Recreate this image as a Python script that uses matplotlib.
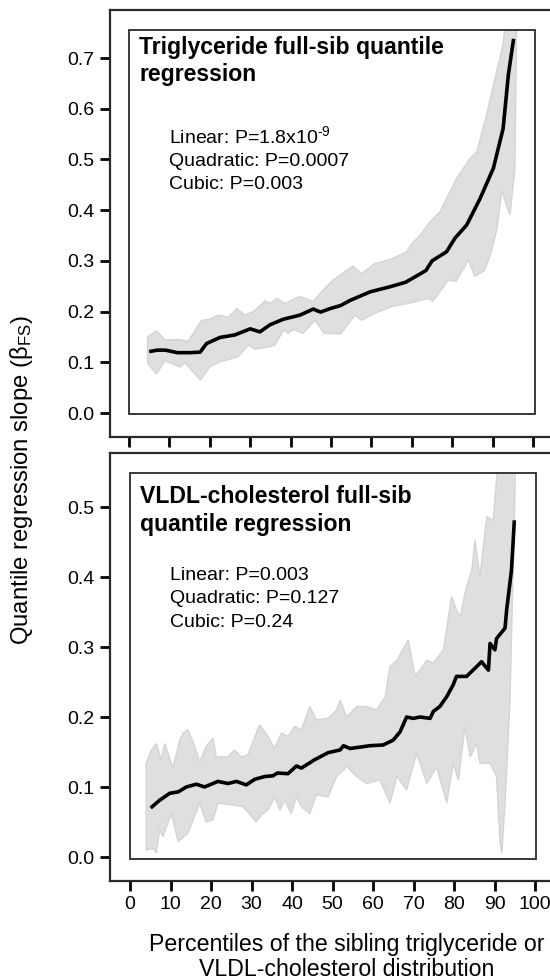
import matplotlib
matplotlib.use("Agg")
import matplotlib.pyplot as plt
from matplotlib.patches import Rectangle
import numpy as np

plt.rcParams['font.family'] = ['Liberation Sans', 'DejaVu Sans']
plt.rcParams['mathtext.fontset'] = 'custom'
plt.rcParams['mathtext.rm'] = 'Liberation Sans'
plt.rcParams['mathtext.it'] = 'Liberation Sans:italic'
plt.rcParams['mathtext.bf'] = 'Liberation Sans:bold'

# ---------------- data: triglyceride panel ----------------
tg_line_x = [5, 7, 9, 12, 15, 17.6, 19.2, 22.5, 26.2, 30, 32.4, 34.9, 38.2, 42.3, 45.6,
             47.4, 49.8, 52.4, 54.7, 59.7, 64.6, 68.5, 73.5, 75, 78.6, 80.7, 83.6, 86.9,
             90.2, 92.6, 93.9, 95.2]
tg_line_y = [0.121, 0.124, 0.124, 0.119, 0.119, 0.120, 0.137, 0.149, 0.154, 0.166, 0.160,
             0.174, 0.185, 0.193, 0.205, 0.199, 0.206, 0.212, 0.222, 0.239, 0.249, 0.258,
             0.281, 0.300, 0.318, 0.345, 0.371, 0.423, 0.483, 0.561, 0.667, 0.738]

tg_up_x = [4.6, 6.8, 8.9, 12.6, 14.6, 18, 20, 22.1, 24.6, 26.7, 28.7, 30.8, 33.7, 34.9,
           36.6, 38.6, 42.3, 45.6, 48.1, 50.5, 53.5, 55.4, 57.6, 60.9, 62.5, 65.3, 68.7,
           70, 72.4, 74.5, 77, 81.1, 84.4, 86.1, 88.5, 90.2, 92.6, 93.5, 96]
tg_up_y = [0.150, 0.162, 0.144, 0.145, 0.141, 0.183, 0.185, 0.193, 0.189, 0.206, 0.193,
           0.200, 0.221, 0.216, 0.226, 0.216, 0.230, 0.220, 0.243, 0.262, 0.279, 0.290,
           0.275, 0.295, 0.298, 0.305, 0.318, 0.334, 0.354, 0.377, 0.397, 0.463, 0.502,
           0.515, 0.588, 0.647, 0.726, 0.80, 0.80]

tg_lo_x = [4.6, 6.8, 8.9, 12.6, 13.9, 17.7, 20, 22.5, 27, 29.5, 31.2, 34.9, 36.1, 38.4,
           39.4, 40.7, 43.1, 46, 48.3, 52.4, 55.9, 57.6, 60.9, 65, 69.1, 74.1, 75.2, 79,
           81, 84, 85.6, 88.1, 89.8, 91, 92.3, 93, 94.3, 95.5, 96]
tg_lo_y = [0.098, 0.077, 0.103, 0.091, 0.099, 0.065, 0.091, 0.101, 0.111, 0.134, 0.126,
           0.131, 0.134, 0.165, 0.157, 0.165, 0.157, 0.183, 0.157, 0.156, 0.193, 0.183,
           0.197, 0.210, 0.216, 0.226, 0.220, 0.262, 0.260, 0.302, 0.269, 0.282, 0.321,
           0.360, 0.440, 0.420, 0.391, 0.480, 0.80]

# ---------------- data: VLDL-cholesterol panel ----------------
vl_line_x = [5.1, 7.3, 9.8, 11.9, 13.9, 16.4, 18.4, 21.7, 24.2, 26.3, 28.7, 30.8, 33.3,
             35.3, 36.4, 39, 41.1, 42.3, 45.6, 48.9, 51.9, 52.7, 54.3, 59.3, 62.5, 65,
             66.7, 68.3, 69.9, 71.6, 74.1, 74.9, 76.5, 78.2, 79.8, 80.6, 83.1, 85.6, 86.8,
             88.5, 88.9, 90.1, 90.5, 92.6, 93.0, 94.2, 94.9]
vl_line_y = [0.070, 0.081, 0.091, 0.093, 0.100, 0.104, 0.100, 0.108, 0.105, 0.108, 0.103,
             0.111, 0.115, 0.116, 0.120, 0.119, 0.130, 0.127, 0.139, 0.149, 0.153, 0.159,
             0.155, 0.159, 0.160, 0.167, 0.179, 0.200, 0.198, 0.200, 0.198, 0.208, 0.215,
             0.229, 0.246, 0.258, 0.258, 0.272, 0.279, 0.267, 0.305, 0.296, 0.312, 0.327,
             0.353, 0.410, 0.481]

vl_up_x = [4.0, 5.3, 6.5, 7.7, 8.6, 10.6, 12.3, 13.1, 14.3, 16, 17.2, 18.8, 20.5, 21.3,
           24.2, 25.8, 27.5, 29.1, 32, 34.1, 35.7, 37.4, 39, 40.7, 42.3, 44.4, 46, 48.9,
           51.0, 51.9, 53.5, 56, 58.4, 60.9, 63, 64.2, 65.9, 68.7, 70.4, 71.6, 73.3, 74.9,
           77.4, 79.4, 80.6, 81.5, 83.1, 84.4, 85.2, 86.4, 88.1, 89.7, 90.5, 91, 95.2]
vl_up_y = [0.134, 0.153, 0.162, 0.139, 0.162, 0.127, 0.167, 0.177, 0.182, 0.158, 0.136,
           0.158, 0.170, 0.143, 0.143, 0.153, 0.143, 0.146, 0.189, 0.172, 0.155, 0.177,
           0.172, 0.187, 0.181, 0.215, 0.196, 0.198, 0.210, 0.224, 0.200, 0.215, 0.215,
           0.210, 0.229, 0.272, 0.281, 0.310, 0.258, 0.267, 0.281, 0.277, 0.296, 0.372,
           0.353, 0.343, 0.386, 0.410, 0.453, 0.400, 0.486, 0.481, 0.539, 0.60, 0.60]

vl_lo_x = [4.0, 5.7, 6.5, 7.3, 8.1, 10.2, 11.9, 14.3, 17.2, 18.8, 20.5, 21.7, 24.5, 27.9,
           31.2, 32.4, 34.1, 35.7, 37, 38.2, 39.8, 41.1, 42.3, 44.4, 46, 48.9, 51.0, 53.5,
           56, 58.4, 61.7, 64.2, 65.9, 68.3, 70.8, 73.3, 75.7, 78.2, 79.8, 81.1, 82.7, 84,
           85.6, 86.4, 88.9, 90.5, 91.4, 91.8, 92.6, 93.8, 95.0, 95.2]
vl_lo_y = [0.010, 0.012, 0.006, 0.039, 0.029, 0.062, 0.022, 0.034, 0.077, 0.050, 0.053,
           0.077, 0.075, 0.072, 0.050, 0.060, 0.067, 0.086, 0.067, 0.081, 0.062, 0.086,
           0.072, 0.062, 0.089, 0.086, 0.115, 0.129, 0.115, 0.105, 0.110, 0.077, 0.115,
           0.096, 0.148, 0.105, 0.129, 0.077, 0.134, 0.110, 0.186, 0.143, 0.162, 0.134,
           0.134, 0.115, 0.020, 0.005, 0.077, 0.220, 0.505, 0.60]

y_ticks_tg = [0.0, 0.1, 0.2, 0.3, 0.4, 0.5, 0.6, 0.7]
y_ticks_vl = [0.0, 0.1, 0.2, 0.3, 0.4, 0.5]
x_ticks = [0, 10, 20, 30, 40, 50, 60, 70, 80, 90, 100]

title_tg = "Triglyceride full-sib quantile\nregression"
title_vl = "VLDL-cholesterol full-sib\nquantile regression"
ann_tg = ["Linear: P=1.8x10$^{\\mathrm{‐9}}$", "Quadratic: P=0.0007", "Cubic: P=0.003"]
ann_vl = ["Linear: P=0.003", "Quadratic: P=0.127", "Cubic: P=0.24"]

W, H = 550, 980
fig = plt.figure(figsize=(W / 100, H / 100), dpi=100)

band_color = '#DFDFDF'
edge = '#2A2A2A'


def panel(rect, xlim, ylim, inner, line_x, line_y, up_x, up_y, lo_x, lo_y,
          yticks, show_xlabels, title, title_y, ann, ann_ys):
    ax = fig.add_axes(rect)
    ax.set_xlim(*xlim)
    ax.set_ylim(*ylim)
    for s in ax.spines.values():
        s.set_linewidth(1.6)
        s.set_color(edge)
    box = Rectangle((inner[0], inner[1]), inner[2], inner[3], fill=False,
                    lw=1.3, edgecolor=edge, zorder=5)
    ax.add_patch(box)
    px = list(up_x) + list(lo_x)[::-1]
    py = list(up_y) + list(lo_y)[::-1]
    poly = ax.fill(px, py, facecolor=band_color, edgecolor='#D4D4D4', lw=1.0, zorder=2)[0]
    poly.set_clip_path(box)
    ax.plot(line_x, line_y, color='black', lw=2.6, zorder=4,
            solid_joinstyle='round', solid_capstyle='butt')
    ax.set_yticks(yticks)
    ax.set_yticklabels([f"{v:.1f}" for v in yticks])
    ax.set_xticks(x_ticks)
    if show_xlabels:
        ax.set_xticklabels([str(v) for v in x_ticks])
    else:
        ax.set_xticklabels([])
    ax.tick_params(direction='out', length=7, width=2.0, labelsize=14, pad=4,
                   color='black', top=False, right=False)
    ax.text(2.5, title_y, title, fontsize=16.6, fontweight='bold', ha='left', va='top',
            zorder=6, linespacing=1.25)
    for t, yy in zip(ann, ann_ys):
        ax.text(9.8, yy, t, fontsize=14, ha='left', va='baseline', zorder=6)
    return ax


# top panel (triglyceride)
panel([110 / W, 1 - 437 / H, 450 / W, 427 / H],
      ((110 - 129) / 4.04, (560 - 129) / 4.04),
      ((413 - 437) / 507, (413 - 10) / 507),
      (0, -0.002, 100.5, 0.757),
      tg_line_x, tg_line_y, tg_up_x, tg_up_y, tg_lo_x, tg_lo_y,
      y_ticks_tg, False, title_tg, (413 - 36) / 507, ann_tg,
      [(413 - 142.7) / 507, (413 - 166) / 507, (413 - 189.3) / 507])

# bottom panel (VLDL-cholesterol)
panel([110 / W, 1 - 881 / H, 450 / W, 428 / H],
      ((110 - 130) / 4.05, (560 - 130) / 4.05),
      ((857 - 881) / 700, (857 - 453) / 700),
      (0, -0.003, 100.2, 0.552),
      vl_line_x, vl_line_y, vl_up_x, vl_up_y, vl_lo_x, vl_lo_y,
      y_ticks_vl, True, title_vl, (857 - 485) / 700, ann_vl,
      [(857 - 580) / 700, (857 - 603) / 700, (857 - 627) / 700])

fig.text(22 / W, 1 - 480 / H, r"Quantile regression slope (β$_{\mathrm{FS}}$)",
         rotation=90, ha='center', va='center', fontsize=17.2)
fig.text(347 / W, 1 - 957 / H,
         "Percentiles of the sibling triglyceride or\nVLDL-cholesterol distribution",
         ha='center', va='center', fontsize=16.7, linespacing=1.15)

fig.savefig("out.png", dpi=100)
